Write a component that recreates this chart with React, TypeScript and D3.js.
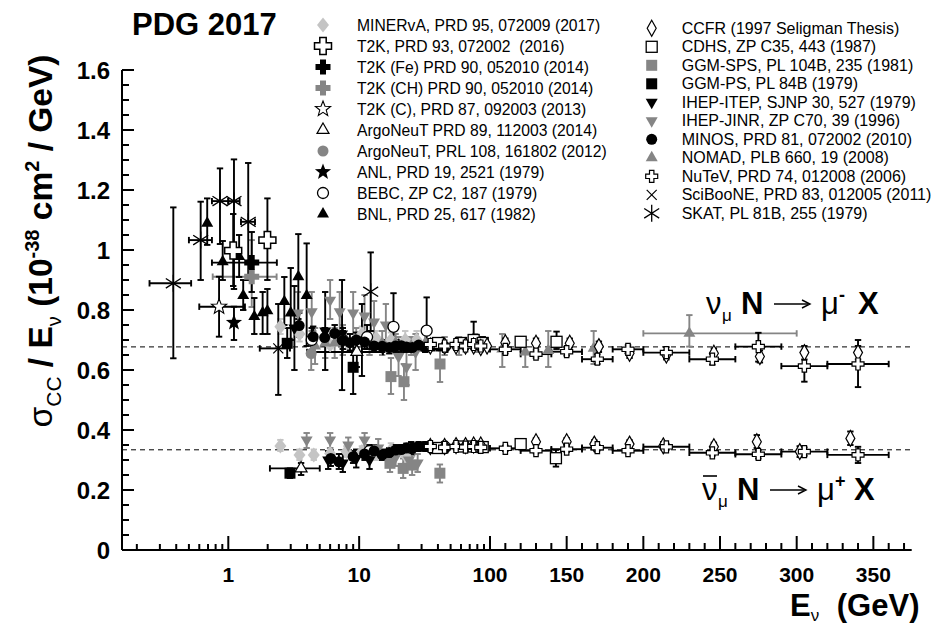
import React from "react";
import * as d3 from "d3";

// ---------------- DATA ----------------
// point: [E (GeV), sigma/E, lower, upper, Elow, Ehigh]  (Elow = 0 -> no horizontal bar)
type Pt = [number, number, number, number, number, number];

const MINERVA_NU: Pt[] = [
  [2.5, 0.744, 0.72, 0.77, 0, 0], [3.5, 0.72, 0.695, 0.745, 0, 0], [4.5, 0.706, 0.68, 0.73, 0, 0],
  [6, 0.683, 0.66, 0.71, 0, 0], [8, 0.694, 0.67, 0.72, 0, 0], [10.5, 0.72, 0.695, 0.745, 0, 0],
  [13.5, 0.706, 0.68, 0.73, 0, 0], [17.5, 0.7, 0.675, 0.725, 0, 0], [22.5, 0.7, 0.67, 0.73, 0, 0],
  [27.5, 0.7, 0.67, 0.73, 0, 0],
];
const MINERVA_NUBAR: Pt[] = [
  [2.5, 0.347, 0.33, 0.367, 0, 0], [3.5, 0.317, 0.3, 0.335, 0, 0], [4.5, 0.317, 0.3, 0.335, 0, 0],
  [6, 0.322, 0.305, 0.34, 0, 0], [8, 0.328, 0.31, 0.346, 0, 0], [10.5, 0.328, 0.31, 0.346, 0, 0],
  [13.5, 0.322, 0.3, 0.344, 0, 0], [17.5, 0.333, 0.31, 0.356, 0, 0], [22.5, 0.317, 0.29, 0.344, 0, 0],
];
const T2K16_NU: Pt[] = [[1.09, 0.998, 0.88, 1.12, 0, 0], [1.99, 1.033, 0.9, 1.172, 0, 0]];
const T2KFE_NU: Pt[] = [[1.51, 0.958, 0.86, 1.06, 0.75, 2.35]];
const T2KCH_NU: Pt[] = [[1.51, 0.911, 0.81, 1.033, 0.76, 2.34]];
const T2KC_NU: Pt[] = [[0.85, 0.811, 0.711, 0.911, 0.6, 1.34]];
const ARGO14_NU: Pt[] = [[9.6, 0.66, 0.61, 0.71, 4.0, 15.2]];
const ARGO14_NUBAR: Pt[] = [[3.6, 0.272, 0.25, 0.29, 2.08, 5.0]];
const ARGO12_NU: Pt[] = [[4.3, 0.655, 0.6, 0.71, 0, 0]];
const ANL_NU: Pt[] = [[1.105, 0.758, 0.7, 0.811, 0, 0]];
const BEBC_NU: Pt[] = [
  [4.34, 0.7, 0.66, 0.74, 0, 0], [7.5, 0.7, 0.66, 0.74, 0, 0], [11.5, 0.71, 0.67, 0.75, 0, 0],
  [18.3, 0.744, 0.69, 0.856, 0, 0], [32.8, 0.731, 0.68, 0.842, 0, 0],
];
const BEBC_NUBAR: Pt[] = [[12, 0.33, 0.31, 0.35, 0, 0], [25, 0.34, 0.32, 0.36, 0, 0], [45, 0.345, 0.33, 0.36, 0, 0]];
const BNL_NU: Pt[] = [
  [0.69, 1.089, 1.017, 1.172, 0, 0], [0.906, 0.961, 0.9, 1.03, 0, 0], [1.21, 0.978, 0.91, 1.05, 0, 0],
  [1.3, 0.848, 0.8, 0.9, 0, 0], [1.58, 0.778, 0.72, 0.84, 0, 0], [1.83, 0.791, 0.72, 0.86, 0, 0],
  [1.99, 0.797, 0.72, 0.87, 0, 0], [2.68, 0.828, 0.75, 0.91, 0, 0], [3.0, 0.79, 0.7, 0.94, 0, 0],
  [3.43, 0.911, 0.77, 1.053, 0, 0], [3.97, 0.848, 0.68, 1.022, 0, 0],
];
const CCFR_NU: Pt[] = [
  [35, 0.68, 0.67, 0.69, 0, 0], [45, 0.68, 0.67, 0.69, 0, 0], [55, 0.68, 0.67, 0.69, 0, 0],
  [65, 0.68, 0.67, 0.69, 0, 0], [75, 0.68, 0.67, 0.69, 0, 0], [85, 0.675, 0.665, 0.685, 0, 0],
  [95, 0.68, 0.67, 0.69, 0, 0],
  [110, 0.691, 0.675, 0.705, 0, 0], [130, 0.689, 0.675, 0.705, 0, 0], [152, 0.689, 0.675, 0.705, 0, 0],
  [171, 0.678, 0.66, 0.695, 0, 0], [191, 0.656, 0.64, 0.672, 0, 0], [215, 0.65, 0.635, 0.665, 0, 0],
  [246, 0.656, 0.64, 0.672, 0, 0], [276, 0.645, 0.625, 0.665, 0, 0], [305, 0.658, 0.635, 0.68, 0, 0],
  [340, 0.658, 0.635, 0.68, 0, 0],
];
const CCFR_NUBAR: Pt[] = [
  [35, 0.345, 0.335, 0.355, 0, 0], [45, 0.345, 0.335, 0.355, 0, 0], [55, 0.348, 0.338, 0.358, 0, 0],
  [65, 0.348, 0.338, 0.358, 0, 0], [75, 0.35, 0.34, 0.36, 0, 0], [85, 0.35, 0.34, 0.36, 0, 0],
  [130, 0.361, 0.35, 0.373, 0, 0], [150, 0.361, 0.35, 0.373, 0, 0], [168, 0.353, 0.34, 0.366, 0, 0],
  [191, 0.353, 0.34, 0.366, 0, 0], [213, 0.347, 0.335, 0.36, 0, 0], [246, 0.344, 0.33, 0.358, 0, 0],
  [274, 0.361, 0.34, 0.383, 0, 0], [302, 0.328, 0.31, 0.346, 0, 0], [335, 0.372, 0.35, 0.395, 0, 0],
];
const CDHS_NU: Pt[] = [
  [40, 0.69, 0.675, 0.705, 0, 0], [60, 0.69, 0.675, 0.705, 0, 0], [75, 0.7, 0.68, 0.761, 0, 0],
  [88, 0.69, 0.67, 0.71, 0, 0], [120, 0.694, 0.68, 0.71, 0, 0], [143.4, 0.694, 0.67, 0.728, 0, 0],
];
const CDHS_NUBAR: Pt[] = [
  [40, 0.34, 0.33, 0.35, 0, 0], [60, 0.345, 0.335, 0.355, 0, 0], [75, 0.345, 0.335, 0.355, 0, 0],
  [88, 0.343, 0.333, 0.353, 0, 0], [120, 0.353, 0.34, 0.366, 0, 0], [143, 0.306, 0.278, 0.334, 0, 0],
];
const GGMSPS_NU: Pt[] = [[17.5, 0.578, 0.52, 0.64, 0, 0], [22, 0.561, 0.5, 0.62, 0, 0], [41.5, 0.62, 0.56, 0.68, 0, 0]];
const GGMSPS_NUBAR: Pt[] = [
  [17.2, 0.289, 0.26, 0.32, 0, 0], [21.7, 0.272, 0.24, 0.305, 0, 0], [25.4, 0.283, 0.25, 0.315, 0, 0],
  [41.4, 0.256, 0.225, 0.285, 0, 0],
];
const GGMPS_NU: Pt[] = [[2.82, 0.689, 0.64, 0.74, 0, 0], [9.0, 0.609, 0.52, 0.7, 0, 0]];
const GGMPS_NUBAR: Pt[] = [[2.96, 0.256, 0.24, 0.272, 0, 0]];
const IHEPITEP_NU: Pt[] = [[3.2, 0.74, 0.6, 0.88, 0, 0], [5.5, 0.73, 0.6, 0.86, 0, 0], [7.4, 0.72, 0.533, 0.9, 0, 0], [10.5, 0.7, 0.58, 0.82, 0, 0]];
const IHEPITEP_NUBAR: Pt[] = [[5.8, 0.3, 0.27, 0.33, 0, 0], [7.5, 0.29, 0.26, 0.32, 0, 0], [9.5, 0.305, 0.275, 0.335, 0, 0], [12, 0.3, 0.27, 0.33, 0, 0]];
const IHEPJINR_NU: Pt[] = [
  [3.4, 0.79, 0.72, 0.86, 0, 0], [4.34, 0.794, 0.73, 0.86, 0, 0], [6, 0.833, 0.77, 0.9, 0, 0],
  [7.1, 0.794, 0.73, 0.86, 0, 0], [9, 0.79, 0.72, 0.86, 0, 0], [11, 0.78, 0.71, 0.85, 0, 0],
  [13, 0.76, 0.69, 0.83, 0, 0], [16, 0.75, 0.68, 0.82, 0, 0], [20, 0.645, 0.58, 0.71, 0, 0],
  [23, 0.61, 0.55, 0.67, 0, 0], [27, 0.66, 0.6, 0.72, 0, 0],
];
const IHEPJINR_NUBAR: Pt[] = [
  [3.97, 0.367, 0.34, 0.39, 0, 0], [6, 0.367, 0.34, 0.39, 0, 0], [8.26, 0.35, 0.32, 0.375, 0, 0],
  [11, 0.367, 0.34, 0.39, 0, 0], [14, 0.34, 0.31, 0.37, 0, 0], [19, 0.31, 0.28, 0.34, 0, 0],
  [24, 0.3, 0.27, 0.33, 0, 0], [28, 0.29, 0.26, 0.32, 0, 0],
];
const MINOS_NU: Pt[] = [
  [3.48, 0.748, 0.71, 0.79, 0, 0], [4.45, 0.711, 0.68, 0.745, 0, 0], [5.45, 0.708, 0.68, 0.74, 0, 0],
  [6.5, 0.722, 0.69, 0.75, 0, 0], [7.5, 0.699, 0.67, 0.73, 0, 0], [8.5, 0.691, 0.665, 0.72, 0, 0],
  [9.5, 0.7, 0.675, 0.725, 0, 0], [11, 0.693, 0.67, 0.715, 0, 0], [13, 0.68, 0.66, 0.7, 0, 0],
  [15, 0.679, 0.66, 0.7, 0, 0], [17, 0.675, 0.655, 0.695, 0, 0], [19, 0.68, 0.66, 0.7, 0, 0],
  [21, 0.681, 0.66, 0.7, 0, 0], [23, 0.677, 0.66, 0.695, 0, 0], [25.5, 0.675, 0.66, 0.69, 0, 0],
  [28.5, 0.683, 0.665, 0.7, 0, 0], [32, 0.675, 0.66, 0.69, 0, 0], [36, 0.681, 0.665, 0.7, 0, 0],
  [40.5, 0.681, 0.665, 0.7, 0, 0], [45.5, 0.676, 0.66, 0.69, 0, 0],
];
const MINOS_NUBAR: Pt[] = [
  [6.07, 0.305, 0.28, 0.33, 0, 0], [7, 0.294, 0.27, 0.32, 0, 0], [9, 0.311, 0.29, 0.33, 0, 0],
  [11, 0.32, 0.3, 0.34, 0, 0], [13, 0.33, 0.31, 0.35, 0, 0], [15, 0.317, 0.3, 0.335, 0, 0],
  [17, 0.325, 0.31, 0.34, 0, 0], [19, 0.333, 0.315, 0.35, 0, 0], [21, 0.335, 0.32, 0.35, 0, 0],
  [23, 0.34, 0.325, 0.355, 0, 0], [25.5, 0.34, 0.325, 0.355, 0, 0], [28.5, 0.345, 0.33, 0.36, 0, 0],
  [32, 0.345, 0.33, 0.36, 0, 0], [36, 0.34, 0.325, 0.355, 0, 0], [40.5, 0.342, 0.33, 0.355, 0, 0],
  [45.5, 0.34, 0.325, 0.355, 0, 0],
];
const NOMAD_NU: Pt[] = [
  [4.6, 0.68, 0.62, 0.74, 0, 0], [5.5, 0.69, 0.64, 0.74, 0, 0], [6.5, 0.69, 0.64, 0.74, 0, 0],
  [7.5, 0.7, 0.65, 0.75, 0, 0], [9.5, 0.7, 0.66, 0.74, 0, 0], [12, 0.69, 0.65, 0.73, 0, 0],
  [15, 0.69, 0.65, 0.73, 0, 0], [19, 0.69, 0.66, 0.72, 0, 0], [25, 0.68, 0.65, 0.71, 0, 0],
  [32, 0.69, 0.66, 0.72, 0, 0], [45, 0.68, 0.65, 0.71, 0, 0], [58, 0.68, 0.65, 0.71, 0, 0],
  [77, 0.69, 0.66, 0.72, 0, 0], [108, 0.67, 0.61, 0.72, 0, 0], [123, 0.66, 0.61, 0.7, 0, 0],
  [138, 0.665, 0.61, 0.73, 0, 0], [167.6, 0.672, 0.62, 0.73, 0, 0], [230, 0.722, 0.678, 0.783, 200, 300],
];
const NUTEV_NU: Pt[] = [
  [35, 0.685, 0.675, 0.695, 0, 0], [45, 0.68, 0.67, 0.69, 0, 0], [55, 0.685, 0.675, 0.695, 0, 0],
  [65, 0.68, 0.67, 0.69, 0, 0], [75, 0.685, 0.675, 0.695, 0, 0], [85, 0.68, 0.67, 0.69, 0, 0],
  [110, 0.669, 0.655, 0.683, 100, 120], [130, 0.653, 0.64, 0.667, 120, 140], [150, 0.661, 0.648, 0.675, 140, 160],
  [170, 0.636, 0.62, 0.652, 160, 180], [190, 0.669, 0.655, 0.683, 180, 200], [215, 0.658, 0.64, 0.676, 200, 230],
  [245, 0.636, 0.618, 0.654, 230, 260], [275, 0.678, 0.628, 0.724, 260, 290], [305, 0.613, 0.561, 0.667, 290, 320],
  [340, 0.62, 0.543, 0.7, 320, 360],
];
const NUTEV_NUBAR: Pt[] = [
  [35, 0.345, 0.335, 0.355, 0, 0], [45, 0.342, 0.332, 0.352, 0, 0], [55, 0.345, 0.335, 0.355, 0, 0],
  [65, 0.343, 0.333, 0.353, 0, 0], [75, 0.345, 0.335, 0.355, 0, 0], [85, 0.342, 0.332, 0.352, 0, 0],
  [110, 0.339, 0.33, 0.348, 100, 120], [130, 0.331, 0.322, 0.34, 120, 140], [150, 0.336, 0.327, 0.345, 140, 160],
  [170, 0.341, 0.332, 0.35, 160, 180], [190, 0.331, 0.322, 0.34, 180, 200], [215, 0.344, 0.334, 0.354, 200, 230],
  [245, 0.324, 0.314, 0.334, 230, 260], [275, 0.319, 0.305, 0.333, 260, 290], [305, 0.328, 0.314, 0.342, 290, 320],
  [340, 0.317, 0.29, 0.344, 320, 360],
];
const SCIBOONE_NU: Pt[] = [[2.41, 0.672, 0.517, 0.82, 1.74, 2.96]];
const SKAT_NU: Pt[] = [
  [0.38, 0.889, 0.639, 1.142, 0.25, 0.52], [0.615, 1.033, 0.9, 1.161, 0.5, 0.75],
  [0.864, 1.163, 1.02, 1.272, 0.75, 1.0], [1.105, 1.163, 0.87, 1.302, 1.0, 1.22],
  [1.42, 1.094, 0.9, 1.29, 1.25, 1.6], [12.25, 0.861, 0.73, 0.992, 0, 0],
];

const Y_TICKS = [0, 0.2, 0.4, 0.6, 0.8, 1, 1.2, 1.4, 1.6];
const X_LOG_LABELS = [1, 10, 100];
const X_LIN_LABELS = [150, 200, 250, 300, 350];
const REF_NU = 0.677;
const REF_NUBAR = 0.334;

const LEGEND_LEFT = [
  ["minerva", "MINERvA, PRD 95, 072009 (2017)"],
  ["t2k16", "T2K, PRD 93, 072002  (2016)"],
  ["t2kfe", "T2K (Fe) PRD 90, 052010 (2014)"],
  ["t2kch", "T2K (CH) PRD 90, 052010 (2014)"],
  ["t2kc", "T2K (C), PRD 87, 092003 (2013)"],
  ["argo14", "ArgoNeuT PRD 89, 112003 (2014)"],
  ["argo12", "ArgoNeuT, PRL 108, 161802 (2012)"],
  ["anl", "ANL, PRD 19, 2521 (1979)"],
  ["bebc", "BEBC, ZP C2, 187 (1979)"],
  ["bnl", "BNL, PRD 25, 617 (1982)"],
];
const LEGEND_RIGHT = [
  ["ccfr", "CCFR (1997 Seligman Thesis)"],
  ["cdhs", "CDHS, ZP C35, 443 (1987)"],
  ["ggmsps", "GGM-SPS, PL 104B, 235 (1981)"],
  ["ggmps", "GGM-PS, PL 84B (1979)"],
  ["iheptep", "IHEP-ITEP, SJNP 30, 527 (1979)"],
  ["ihepjinr", "IHEP-JINR, ZP C70, 39 (1996)"],
  ["minos", "MINOS, PRD 81, 072002 (2010)"],
  ["nomad", "NOMAD, PLB 660, 19 (2008)"],
  ["nutev", "NuTeV, PRD 74, 012008 (2006)"],
  ["sciboone", "SciBooNE, PRD 83, 012005 (2011)"],
  ["skat", "SKAT, PL 81B, 255 (1979)"],
];

// ---------------- STYLE ----------------
const FONT = "'Liberation Sans', Arial, Helvetica, sans-serif";
const GREY = "#858585";
const LGREY = "#c4c4c4";

const SERIES: { kind: string; data: Pt[]; err: string }[] = [
  { kind: "minerva", data: MINERVA_NU, err: LGREY },
  { kind: "minerva", data: MINERVA_NUBAR, err: LGREY },
  { kind: "nomad", data: NOMAD_NU, err: GREY },
  { kind: "ihepjinr", data: IHEPJINR_NU, err: GREY },
  { kind: "ihepjinr", data: IHEPJINR_NUBAR, err: GREY },
  { kind: "ggmsps", data: GGMSPS_NU, err: GREY },
  { kind: "ggmsps", data: GGMSPS_NUBAR, err: GREY },
  { kind: "argo12", data: ARGO12_NU, err: GREY },
  { kind: "t2kch", data: T2KCH_NU, err: GREY },
  { kind: "iheptep", data: IHEPITEP_NU, err: "#000" },
  { kind: "iheptep", data: IHEPITEP_NUBAR, err: "#000" },
  { kind: "bnl", data: BNL_NU, err: "#000" },
  { kind: "skat", data: SKAT_NU, err: "#000" },
  { kind: "anl", data: ANL_NU, err: "#000" },
  { kind: "t2kc", data: T2KC_NU, err: "#000" },
  { kind: "t2kfe", data: T2KFE_NU, err: "#000" },
  { kind: "t2k16", data: T2K16_NU, err: "#000" },
  { kind: "sciboone", data: SCIBOONE_NU, err: "#000" },
  { kind: "argo14", data: ARGO14_NU, err: "#000" },
  { kind: "argo14", data: ARGO14_NUBAR, err: "#000" },
  { kind: "ggmps", data: GGMPS_NU, err: "#000" },
  { kind: "ggmps", data: GGMPS_NUBAR, err: "#000" },
  { kind: "bebc", data: BEBC_NU, err: "#000" },
  { kind: "bebc", data: BEBC_NUBAR, err: "#000" },
  { kind: "minos", data: MINOS_NU, err: "#000" },
  { kind: "minos", data: MINOS_NUBAR, err: "#000" },
  { kind: "cdhs", data: CDHS_NU, err: "#000" },
  { kind: "cdhs", data: CDHS_NUBAR, err: "#000" },
  { kind: "ccfr", data: CCFR_NU, err: "#000" },
  { kind: "ccfr", data: CCFR_NUBAR, err: "#000" },
  { kind: "nutev", data: NUTEV_NU, err: "#000" },
  { kind: "nutev", data: NUTEV_NUBAR, err: "#000" },
];

// ---------------- SCALES ----------------
const X0 = 122, X1 = 911.7, Y0 = 550;
const xLog = d3.scaleLog().domain([1, 100]).range([228.3, 490]);
const xLin = d3.scaleLinear().domain([100, 375]).range([490, X1]);
const X = (e: number) => (e <= 100 ? xLog(e) : xLin(e));
const Y = d3.scaleLinear().domain([0, 1.6]).range([Y0, 70]);

// ---------------- MARKERS ----------------
const diamond = (w: number, h: number) => `M0,${-h}L${w},0L0,${h}L${-w},0Z`;
const tri = (a: number, dir: number) => {
  const h = a * 1.732;
  return `M0,${(-2 * h) / 3 * dir}L${a},${(h / 3) * dir}L${-a},${(h / 3) * dir}Z`;
};
const plus = (L: number, t: number) =>
  `M${-t},${-L}H${t}V${-t}H${L}V${t}H${t}V${L}H${-t}V${t}H${-L}V${-t}H${-t}Z`;
const star = (R: number, r: number) => {
  const pts: string[] = [];
  for (let i = 0; i < 10; i++) {
    const a = -Math.PI / 2 + (i * Math.PI) / 5;
    const rr = i % 2 === 0 ? R : r;
    pts.push(`${(rr * Math.cos(a)).toFixed(2)},${(rr * Math.sin(a)).toFixed(2)}`);
  }
  return "M" + pts.join("L") + "Z";
};

function Marker({ kind, x, y }: { kind: string; x: number; y: number }) {
  const t = `translate(${x},${y})`;
  const k = "#000";
  switch (kind) {
    case "minerva":
      return <path transform={t} d={diamond(6, 7.5)} fill={LGREY} />;
    case "t2k16":
      return <path transform={t} d={plus(8.5, 3.2)} fill="#fff" stroke={k} strokeWidth={1.5} />;
    case "t2kfe":
      return <path transform={t} d={plus(7.5, 3)} fill={k} />;
    case "t2kch":
      return <path transform={t} d={plus(7.5, 3)} fill={GREY} />;
    case "t2kc":
      return <path transform={t} d={star(8, 3.4)} fill="#fff" stroke={k} strokeWidth={1.1} />;
    case "argo14":
      return <path transform={t} d={tri(6, 1)} fill="#fff" stroke={k} strokeWidth={1.2} />;
    case "argo12":
      return <circle cx={x} cy={y} r={5.5} fill={GREY} />;
    case "anl":
      return <path transform={t} d={star(8.5, 3.6)} fill={k} />;
    case "bebc":
      return <circle cx={x} cy={y} r={5.5} fill="#fff" stroke={k} strokeWidth={1.3} />;
    case "bnl":
      return <path transform={t} d={tri(6, 1)} fill={k} />;
    case "ccfr":
      return <path transform={t} d={diamond(4.5, 8)} fill="#fff" stroke={k} strokeWidth={1.2} />;
    case "cdhs":
      return <rect x={x - 5.5} y={y - 5.5} width={11} height={11} fill="#fff" stroke={k} strokeWidth={1.3} />;
    case "ggmsps":
      return <rect x={x - 5.5} y={y - 5.5} width={11} height={11} fill={GREY} />;
    case "ggmps":
      return <rect x={x - 5.5} y={y - 5.5} width={11} height={11} fill={k} />;
    case "iheptep":
      return <path transform={t} d={tri(6, -1)} fill={k} />;
    case "ihepjinr":
      return <path transform={t} d={tri(6, -1)} fill={GREY} />;
    case "minos":
      return <circle cx={x} cy={y} r={5.5} fill={k} />;
    case "nomad":
      return <path transform={t} d={tri(6, 1)} fill={GREY} />;
    case "nutev":
      return <path transform={t} d={plus(6, 2.2)} fill="#fff" stroke={k} strokeWidth={1.2} />;
    case "sciboone":
      return <path transform={t} d="M-5,-5L5,5M-5,5L5,-5" stroke={k} strokeWidth={1.2} />;
    case "skat":
      return (
        <path transform={t} d="M0,-8.5V8.5M-7.5,-4.8L7.5,4.8M-7.5,4.8L7.5,-4.8" stroke={k} strokeWidth={1.3} fill="none" />
      );
    default:
      return null;
  }
}

function ErrorBars({ p, color }: { p: Pt; color: string }) {
  const [e, v, lo, hi, el, eh] = p;
  const x = X(e), y = Y(v);
  const c = 3.2;
  return (
    <g stroke={color} strokeWidth={1.9}>
      <line x1={x} x2={x} y1={Y(lo)} y2={Y(hi)} />
      <line x1={x - c} x2={x + c} y1={Y(lo)} y2={Y(lo)} />
      <line x1={x - c} x2={x + c} y1={Y(hi)} y2={Y(hi)} />
      {el > 0 && (
        <>
          <line x1={X(el)} x2={X(eh)} y1={y} y2={y} />
          <line x1={X(el)} x2={X(el)} y1={y - c} y2={y + c} />
          <line x1={X(eh)} x2={X(eh)} y1={y - c} y2={y + c} />
        </>
      )}
    </g>
  );
}

function Reaction({ x, y, sign, bar }: { x: number; y: number; sign: string; bar: boolean }) {
  return (
    <g>
      <text x={x} y={y} fontSize={31}>ν</text>
      {bar && <line x1={x + 1} x2={x + 15} y1={y - 24} y2={y - 24} stroke="#000" strokeWidth={1.6} />}
      <text x={x + 16} y={y + 7} fontSize={17}>μ</text>
      <text x={x + 35} y={y} fontSize={31} fontWeight="bold">N</text>
      <line x1={x + 68} x2={x + 102} y1={y - 10} y2={y - 10} stroke="#000" strokeWidth={1.4} />
      <path d={`M${x + 96},${y - 14}L${x + 104},${y - 10}L${x + 96},${y - 6}`} fill="none" stroke="#000" strokeWidth={1.4} />
      <text x={x + 115} y={y} fontSize={31}>μ</text>
      <text x={x + 133} y={y - 13} fontSize={18} fontWeight="bold">{sign}</text>
      <text x={x + 152} y={y} fontSize={31} fontWeight="bold">X</text>
    </g>
  );
}

export default function App() {
  // ticks
  const logMinor: number[] = [];
  [0.1, 1, 10].forEach((d) => {
    for (let i = 2; i <= 9; i++) {
      const v = d * i;
      if (X(v) >= X0) logMinor.push(v);
    }
  });
  const linTicks = d3.range(110, 371, 10);
  const yMinor = d3.range(0, 1.6001, 0.05);

  return (
    <svg width={940} height={627} style={{ display: "block", position: "absolute", left: 0, top: 0 }} fontFamily={FONT}>
      <rect width={940} height={627} fill="#fff" />
      {/* title */}
      <text x={132} y={35} fontSize={31} fontWeight="bold">PDG 2017</text>

      {/* legend */}
      {LEGEND_LEFT.map(([k, label], i) => {
        const y = 25 + i * 21;
        return (
          <g key={k}>
            <Marker kind={k} x={323} y={y} />
            <text x={357} y={y + 5.5} fontSize={15.7} style={{ whiteSpace: "pre" }}>{label}</text>
          </g>
        );
      })}
      {LEGEND_RIGHT.map(([k, label], i) => {
        const y = 28.3 + i * 18.5;
        return (
          <g key={k}>
            <Marker kind={k} x={651.7} y={y} />
            <text x={681.7} y={y + 5.5} fontSize={16}>{label}</text>
          </g>
        );
      })}

      {/* reference dashed lines */}
      {[REF_NU, REF_NUBAR].map((r) => (
        <line key={r} x1={X0} x2={X1} y1={Y(r)} y2={Y(r)} stroke="#000" strokeWidth={1} strokeDasharray="5,4" />
      ))}

      {/* data */}
      {SERIES.map((s, si) => (
        <g key={"e" + si}>
          {s.data.map((p, i) => <ErrorBars key={i} p={p} color={s.err} />)}
        </g>
      ))}
      {SERIES.map((s, si) => (
        <g key={"m" + si}>
          {s.data.map((p, i) => <Marker key={i} kind={s.kind} x={X(p[0])} y={Y(p[1])} />)}
        </g>
      ))}

      {/* axes */}
      <g stroke="#000" strokeWidth={2}>
        <line x1={X0} x2={X1} y1={Y0} y2={Y0} />
        <line x1={X0} x2={X0} y1={Y0} y2={Y(1.6)} />
        {logMinor.map((v) => <line key={"lm" + v} x1={X(v)} x2={X(v)} y1={Y0} y2={Y0 - 6} />)}
        {X_LOG_LABELS.map((v) => <line key={"lM" + v} x1={X(v)} x2={X(v)} y1={Y0} y2={Y0 - 14} />)}
        {linTicks.map((v) => (
          <line key={"ln" + v} x1={X(v)} x2={X(v)} y1={Y0} y2={Y0 - (v % 50 === 0 ? 14 : 7)} />
        ))}
        {yMinor.map((v, i) => (
          <line key={"ym" + i} x1={X0} x2={X0 + (i % 4 === 0 ? 12 : 7)} y1={Y(v)} y2={Y(v)} />
        ))}
      </g>
      <g fontSize={24} fontWeight="bold" textAnchor="end">
        {Y_TICKS.map((v) => (
          <text key={v} x={110} y={Y(v) + 8.5}>{String(v)}</text>
        ))}
      </g>
      <g fontSize={21} fontWeight="bold" textAnchor="middle">
        {X_LOG_LABELS.map((v) => (
          <text key={v} x={X(v)} y={582}>{String(v)}</text>
        ))}
        {X_LIN_LABELS.map((v) => (
          <text key={v} x={X(v)} y={582}>{String(v)}</text>
        ))}
      </g>

      {/* axis titles */}
      <text x={790} y={616} fontSize={31} fontWeight="bold">
        E<tspan fontSize={17} fontWeight="normal" dy={5}>ν</tspan>
        <tspan dy={-5} dx={9}> (GeV)</tspan>
      </text>
      <text transform="translate(52,241) rotate(-90)" fontSize={33.5} fontWeight="bold" textAnchor="middle">
        <tspan fontWeight="normal">σ</tspan>
        <tspan fontSize={21} dy={9} fontWeight="normal">CC</tspan>
        <tspan dy={-9}> / E</tspan>
        <tspan fontSize={20} dy={9} fontWeight="normal">ν</tspan>
        <tspan dy={-9}> (10</tspan>
        <tspan fontSize={20} dy={-13}>-38</tspan>
        <tspan dy={13}> cm</tspan>
        <tspan fontSize={20} dy={-13}>2</tspan>
        <tspan dy={13}> / GeV)</tspan>
      </text>

      {/* reaction labels */}
      <Reaction x={706} y={314} sign="-" bar={false} />
      <Reaction x={702} y={500} sign="+" bar={true} />
    </svg>
  );
}
